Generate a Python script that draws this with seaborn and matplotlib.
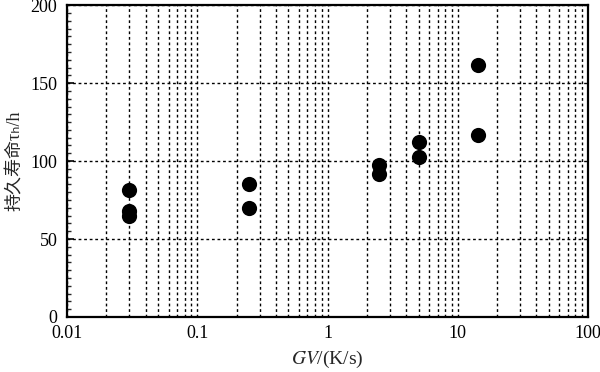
import numpy as np
import pandas as pd
import matplotlib
matplotlib.use("Agg")
import matplotlib.pyplot as plt
import seaborn as sns
from matplotlib.ticker import LogLocator, FixedLocator, MultipleLocator, FuncFormatter

# data
gv = [0.03, 0.03, 0.03, 0.25, 0.25, 2.5, 2.5, 5.0, 5.0, 14.4, 14.4]
life = [81.4, 67.8, 65.0, 85.6, 69.6, 97.4, 92.0, 112.2, 102.7, 161.4, 117.0]
x_ticks = [0.01, 0.1, 1, 10, 100]
x_tick_labels = ["0.01", "0.1", "1", "10", "100"]
y_ticks = [0, 50, 100, 150, 200]

sns.set_style("ticks")
plt.rcParams['font.family'] = ['Liberation Serif', 'Noto Sans CJK SC', 'DejaVu Sans']
plt.rcParams['mathtext.fontset'] = 'stix'

df = pd.DataFrame({"gv": gv, "life": life})

fig = plt.figure(figsize=(6.0, 3.72), dpi=100)
ax = fig.add_axes([0.112, 0.148, 0.868, 0.838])

ax.set_xscale("log")
ax.set_xlim(0.01, 100)
ax.set_ylim(0, 200)

ax.xaxis.set_major_locator(FixedLocator(x_ticks))
ax.xaxis.set_minor_locator(LogLocator(base=10, subs=np.arange(2, 10)))
ax.xaxis.set_major_formatter(FuncFormatter(lambda v, p: x_tick_labels[x_ticks.index(v)] if v in x_ticks else ""))
ax.xaxis.set_minor_formatter(FuncFormatter(lambda v, p: ""))
ax.yaxis.set_major_locator(FixedLocator(y_ticks))
ax.yaxis.set_minor_locator(MultipleLocator(5))

ax.grid(True, which="both", axis="x", color="black", linestyle=(0, (2, 2)), linewidth=1.0)
ax.grid(True, which="major", axis="y", color="black", linestyle=(0, (2, 2)), linewidth=1.0)
ax.set_axisbelow(True)

sns.scatterplot(data=df, x="gv", y="life", ax=ax, color="black", s=120,
                edgecolor="black", linewidth=0, zorder=3, legend=False)

ax.tick_params(axis="both", which="major", direction="in", length=5, width=1.2,
               labelsize=13, colors="black", pad=7)
ax.tick_params(axis="both", which="minor", direction="in", length=3, width=1.0)
ax.tick_params(axis="x", which="both", length=0, pad=6)

for sp in ax.spines.values():
    sp.set_visible(True)
    sp.set_linewidth(1.6)
    sp.set_color("black")

ax.set_xlabel("$GV$/(K/s)", fontsize=14, labelpad=5)
ax.set_ylabel("持久寿命τₕ/h", fontsize=13, labelpad=5)

fig.savefig("out.png", dpi=100, facecolor="white")
